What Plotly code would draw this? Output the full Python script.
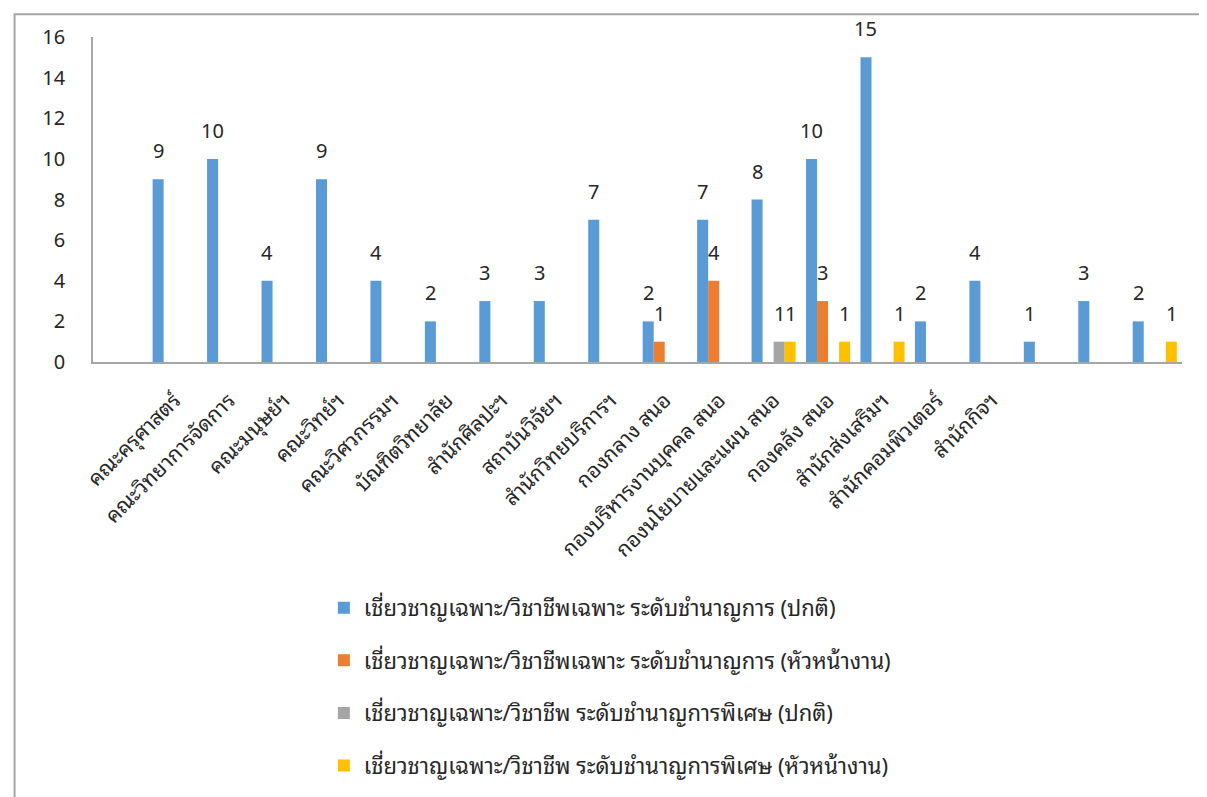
import plotly.graph_objects as go

categories = ["", "คณะครุศาสตร์", "คณะวิทยาการจัดการ", "คณะมนุษย์ฯ", "คณะวิทย์ฯ",
              "คณะวิศวกรรมฯ", "บัณฑิตวิทยาลัย", "สำนักศิลปะฯ", "สถาบันวิจัยฯ",
              "สำนักวิทยบริการฯ", "กองกลาง สนอ", "กองบริหารงานบุคคล สนอ",
              "กองนโยบายและแผน สนอ", "กองคลัง สนอ", "สำนักส่งเสริมฯ",
              "สำนักคอมพิวเตอร์", "สำนักกิจฯ", "", "", ""]

series_names = [
    "เชี่ยวชาญเฉพาะ/วิชาชีพเฉพาะ ระดับชำนาญการ (ปกติ)",
    "เชี่ยวชาญเฉพาะ/วิชาชีพเฉพาะ ระดับชำนาญการ (หัวหน้างาน)",
    "เชี่ยวชาญเฉพาะ/วิชาชีพ ระดับชำนาญการพิเศษ (ปกติ)",
    "เชี่ยวชาญเฉพาะ/วิชาชีพ ระดับชำนาญการพิเศษ (หัวหน้างาน)",
]

s1 = [None, 9, 10, 4, 9, 4, 2, 3, 3, 7, 2, 7, 8, 10, 15, 2, 4, 1, 3, 2]
s2 = [None, None, None, None, None, None, None, None, None, None, 1, 4, None, 3, None, None, None, None, None, None]
s3 = [None, None, None, None, None, None, None, None, None, None, None, None, 1, None, None, None, None, None, None, None]
s4 = [None, None, None, None, None, None, None, None, None, None, None, None, 1, 1, 1, None, None, None, None, 1]

colors = ["#5B9BD5", "#ED7D31", "#A5A5A5", "#FFC000"]
yticks = [0, 2, 4, 6, 8, 10, 12, 14, 16]

FONT = "Tahoma, Leelawadee UI, Noto Sans Thai Looped, Noto Sans Thai, Noto Sans, sans-serif"
x = list(range(len(categories)))

WIDTH, HEIGHT = 1199, 789
ML, MR, MT, MB = 85, 25, 29, 435
BARGAP = 0.19
all_series = [s1, s2, s3, s4]
n_series = len(all_series)
cat_px = (WIDTH - ML - MR) / len(categories)
bar_px = cat_px * (1 - BARGAP) / n_series

fig = go.Figure()
annotations = []
for i, (name, vals) in enumerate(zip(series_names, all_series)):
    fig.add_trace(go.Bar(
        x=x, y=vals, name=name, marker_color=colors[i],
        marker_line_width=0, legendgroup=f"g{i}",
    ))
    for k, v in zip(x, vals):
        if v is not None:
            annotations.append(dict(
                x=k, y=v, xref="x", yref="y", text=str(v), showarrow=False,
                xshift=(i - (n_series - 1) / 2) * bar_px, yshift=12,
                yanchor="bottom", xanchor="center",
                font=dict(size=20, color="#262626", family=FONT),
            ))

fig.update_layout(
    width=WIDTH, height=HEIGHT,
    margin=dict(l=ML, r=MR, t=MT, b=MB, autoexpand=False),
    paper_bgcolor="white", plot_bgcolor="white",
    barmode="group", bargap=BARGAP, bargroupgap=0,
    font=dict(family=FONT, color="#262626"),
    showlegend=True,
    annotations=annotations,
    legend=dict(orientation="v", x=0.212, y=-0.692, xanchor="left", yanchor="top",
                font=dict(size=22, family=FONT, color="#262626"),
                tracegroupgap=21, itemwidth=30),
    xaxis=dict(range=[-0.5, len(categories) - 0.5], tickmode="array",
               tickvals=x, ticktext=categories, tickangle=-45, automargin=False,
               tickfont=dict(size=21, family=FONT, color="#262626"),
               ticklabelstandoff=16,
               showline=True, linecolor="#A6A6A6", linewidth=1.5,
               showgrid=False, ticks="", zeroline=False),
    yaxis=dict(range=[0, 16], tickmode="array", tickvals=yticks, automargin=False,
               tickfont=dict(size=20, family=FONT, color="#262626"),
               showline=True, linecolor="#A6A6A6", linewidth=1.5,
               showgrid=False, ticks="", zeroline=False, ticklabelstandoff=22),
    shapes=[dict(type="rect", xref="paper", yref="paper",
                 x0=-0.072, x1=1.021, y0=-1.4, y1=1.07,
                 line=dict(color="#A6A6A6", width=2), fillcolor="rgba(0,0,0,0)")],
)

fig.write_html("out.html")
